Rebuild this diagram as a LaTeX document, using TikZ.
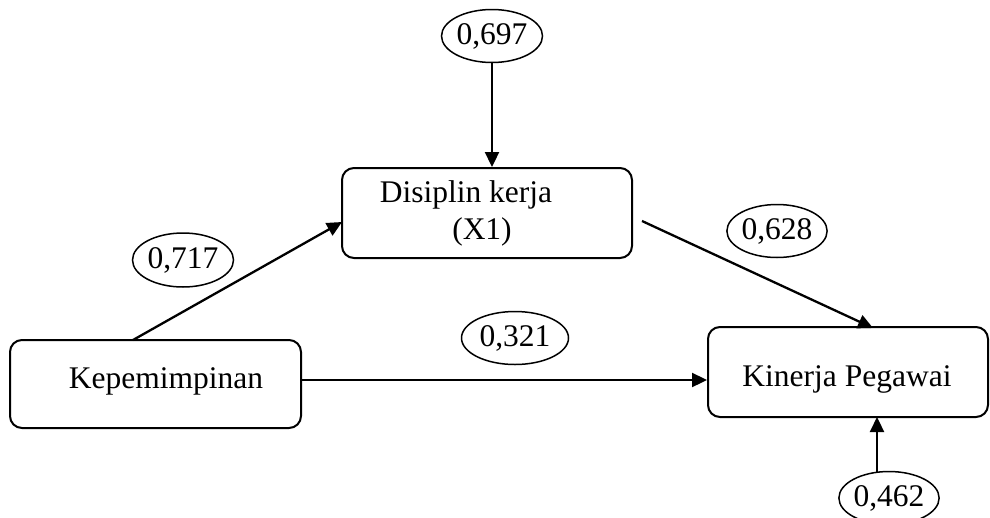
\documentclass[tikz,border=0pt]{standalone}
\usepackage{fontspec}
\setmainfont{Liberation Serif}
\usetikzlibrary{arrows.meta,shapes.geometric}
\begin{document}
\begin{tikzpicture}[x=1pt,y=-1pt,
  box/.style={draw,line width=2pt,rounded corners=12pt,inner sep=0pt},
  val/.style={draw,ellipse,line width=1.5pt,inner sep=0pt,font=\fontsize{31.5}{36}\selectfont},
  txt/.style={anchor=base,inner sep=0pt,font=\fontsize{31.5}{36}\selectfont},
  arr/.style={line width=2.3pt,-{Triangle[length=15pt,width=14pt]}}]
\useasboundingbox (0,0) rectangle (990,517);
% boxes
\node[box,minimum width=290pt,minimum height=90pt] (dis) at (487,213) {};
\node[box,minimum width=291pt,minimum height=88pt] (kep) at (155.5,384) {};
\node[box,minimum width=280pt,minimum height=90pt] (kin) at (848,372) {};
% texts
\node[txt] (dist) at (466,202) {Disiplin kerja};
\node[txt] (x1) at (482,239) {(X1)};
\node[txt] (kept) at (166,388) {Kepemimpinan};
\node[txt] (kint) at (847,386) {Kinerja Pegawai};
% values
\node[val,minimum width=101pt,minimum height=53pt] (e697) at (492,36) {0,697};
\node[val,minimum width=101pt,minimum height=54pt] (e717) at (183,260) {0,717};
\node[val,minimum width=100pt,minimum height=53pt] (e628) at (777,231) {0,628};
\node[val,minimum width=107pt,minimum height=53pt] (e321) at (515,338) {0,321};
\node[val,minimum width=92pt,minimum height=53pt] (e462) at (889,498) {0,462};
% coordinates
\coordinate (k1) at (133,340);
\coordinate (d1) at (342,222);
\coordinate (d2) at (642,221);
\coordinate (n1) at (873,328);
\coordinate (n2) at (877,472);
\coordinate (n3) at (877,417);
\coordinate (kr) at ([yshift=4pt]kep.east);
% arrows
\draw[arr] (e697.south) -- (dis.north -| e697.south);
\draw[arr] (k1) -- (d1);
\draw[arr] (d2) -- (n1);
\draw[arr] (kr) -- (kin.west |- kr);
\draw[arr] (n2) -- (n3);
\end{tikzpicture}
\end{document}
